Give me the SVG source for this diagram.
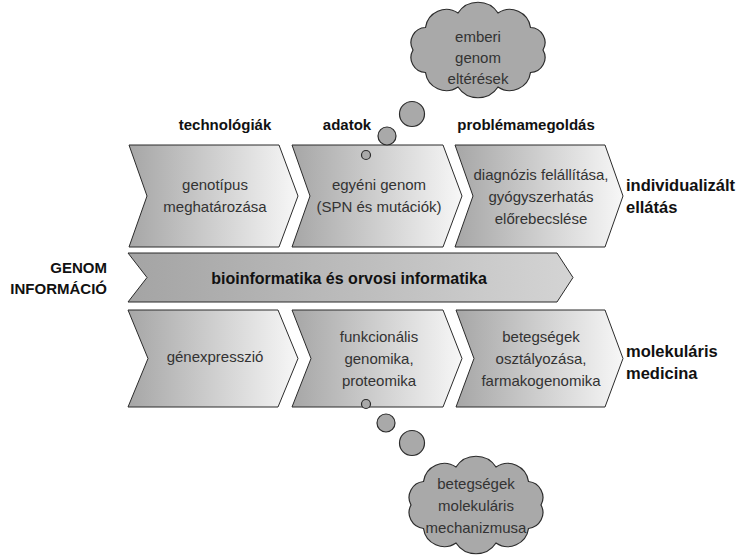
<svg xmlns="http://www.w3.org/2000/svg" width="739" height="557" viewBox="0 0 739 557">
<defs>
<linearGradient id="gChev" x1="0" y1="0" x2="1" y2="0">
<stop offset="0" stop-color="#a6a6a6"/>
<stop offset="1" stop-color="#f7f7f7"/>
</linearGradient>
<linearGradient id="gBand" x1="0" y1="0" x2="1" y2="0">
<stop offset="0" stop-color="#a4a4a4"/>
<stop offset="1" stop-color="#d4d4d4"/>
</linearGradient>
<style>
.chev{fill:url(#gChev);stroke:#2b2b2b;stroke-width:1}
.band{fill:url(#gBand);stroke:#2b2b2b;stroke-width:1}
.cloud{fill:#a9a9a9;stroke:#2b2b2b;stroke-width:1.2}
.t{font-family:"Liberation Sans",Arial,sans-serif;font-size:15px;fill:#333;text-anchor:middle}
.b{font-family:"Liberation Sans",Arial,sans-serif;font-size:15px;font-weight:bold;fill:#111}
.lg{font-size:16.5px}
.md{font-size:16px}
.c{text-anchor:middle}
.r{text-anchor:end}
</style>
</defs>
<rect width="739" height="557" fill="#fff"/>

<g id="label-technologiak"><text class="b c" x="225" y="130">technológiák</text></g>
<g id="label-adatok"><text class="b c" x="347" y="130">adatok</text></g>
<g id="label-problemamegoldas"><text class="b c" x="526" y="130">problémamegoldás</text></g>

<g id="label-genom-informacio">
<text class="b r" x="107" y="273">GENOM</text>
<text class="b r" x="107" y="294">INFORMÁCIÓ</text>
</g>

<g id="chev-genotipus">
<polygon class="chev" points="129,145 279,145 298,196 279,247 129,247 147,196"/>
<text class="t" x="215" y="190">genotípus</text>
<text class="t" x="215" y="212">meghatározása</text>
</g>
<g id="chev-egyeni-genom">
<polygon class="chev" points="292,145 443,145 462,196 443,247 292,247 310,196"/>
<text class="t" x="379" y="190">egyéni genom</text>
<text class="t" x="379" y="212">(SPN és mutációk)</text>
</g>
<g id="chev-diagnozis">
<polygon class="chev" points="455,145 605,145 623,196 605,247 455,247 473,196"/>
<text class="t" x="541" y="180">diagnózis felállítása,</text>
<text class="t" x="541" y="202">gyógyszerhatás</text>
<text class="t" x="541" y="224">előrebecslése</text>
</g>

<g id="band-bioinformatika">
<polygon class="band" points="128,253 557,253 573,277.5 557,302 128,302 147,277.5"/>
<text class="b c md" x="349" y="284">bioinformatika és orvosi informatika</text>
</g>

<g id="chev-genexpresszio">
<polygon class="chev" points="128,310 278,310 298,358.5 278,407 128,407 148,358.5"/>
<text class="t" x="215" y="362">génexpresszió</text>
</g>
<g id="chev-funkcionalis">
<polygon class="chev" points="292,310 443,310 462,358.5 443,407 292,407 311,358.5"/>
<text class="t" x="379" y="342">funkcionális</text>
<text class="t" x="379" y="364">genomika,</text>
<text class="t" x="379" y="386">proteomika</text>
</g>
<g id="chev-betegsegek">
<polygon class="chev" points="456,310 605,310 623,358.5 605,407 456,407 474,358.5"/>
<text class="t" x="541" y="342">betegségek</text>
<text class="t" x="541" y="364">osztályozása,</text>
<text class="t" x="541" y="386">farmakogenomika</text>
</g>

<g id="label-individualizalt">
<text class="b lg" x="626" y="191">individualizált</text>
<text class="b lg" x="626" y="213">ellátás</text>
</g>
<g id="label-molekularis">
<text class="b lg" x="626" y="357">molekuláris</text>
<text class="b lg" x="626" y="379">medicina</text>
</g>

<g id="connectors">
<circle class="cloud" cx="366" cy="155" r="4.5"/>
<circle class="cloud" cx="387" cy="136" r="9"/>
<circle class="cloud" cx="412" cy="114" r="12.5"/>
<circle class="cloud" cx="366" cy="404" r="4.5"/>
<circle class="cloud" cx="386" cy="423" r="9"/>
<circle class="cloud" cx="412" cy="443" r="12.5"/>
</g>

<g id="cloud-emberi-genom">
<path class="cloud" d="M543,50 A15,15 0 0 1 530.5,72.5 A21,21 0 0 1 498,87 A24,24 0 0 1 458,87 A21,21 0 0 1 425.5,72.5 A15,15 0 0 1 413,50 A15,15 0 0 1 425.5,27.5 A21,21 0 0 1 458,13 A24,24 0 0 1 498,13 A21,21 0 0 1 530.5,27.5 A15,15 0 0 1 543,50 Z"/>
<text class="t" x="478" y="42">emberi</text>
<text class="t" x="478" y="63">genom</text>
<text class="t" x="478" y="84">eltérések</text>
</g>

<g id="cloud-betegsegek-mechanizmusa">
<path class="cloud" d="M541,505 A16,16 0 0 1 528.5,528.5 A21,21 0 0 1 496,543 A24,24 0 0 1 456,543 A21,21 0 0 1 423.5,528.5 A16,16 0 0 1 411,505 A16,16 0 0 1 423.5,481.5 A21,21 0 0 1 456,467 A24,24 0 0 1 496,467 A21,21 0 0 1 528.5,481.5 A16,16 0 0 1 541,505 Z"/>
<text class="t" x="476" y="489">betegségek</text>
<text class="t" x="476" y="511">molekuláris</text>
<text class="t" x="476" y="533">mechanizmusa</text>
</g>
</svg>
